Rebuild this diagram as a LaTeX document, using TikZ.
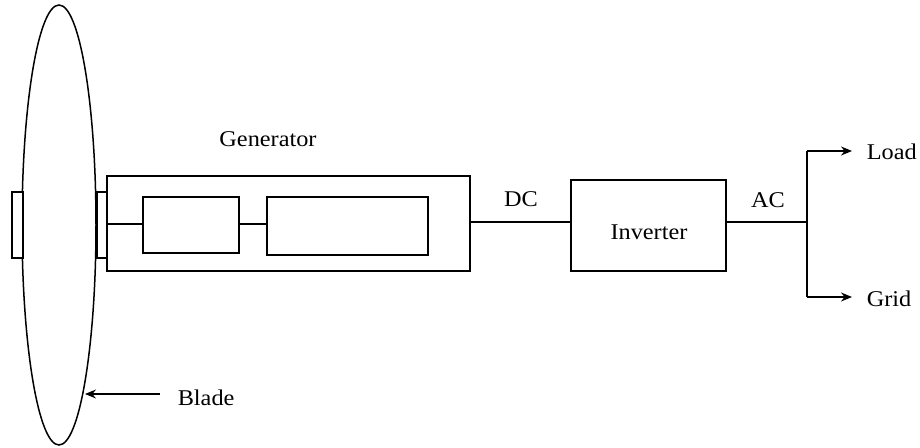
\documentclass[tikz,border=0pt]{standalone}
\usepackage{fontspec}
\setmainfont[FakeStretch=1.08]{Liberation Serif}
\usetikzlibrary{arrows.meta,shapes.geometric}
\begin{document}
\begin{tikzpicture}[x=1pt,y=-1pt,
  line width=1.5pt,
  lbl/.style={font=\fontsize{22.5}{26}\selectfont, inner sep=0pt},
  arr/.style={-{Stealth[length=11pt,width=9pt]}}]
\useasboundingbox (0,0) rectangle (920,447);
% blade
\node[draw, ellipse, minimum width=74pt, minimum height=440pt, inner sep=0pt] (blade) at (59,225) {};
% hubs
\node[draw, fill=white, minimum width=11pt, minimum height=66pt, inner sep=0pt] (hubL) at (17.5,225) {};
\node[draw, fill=white, minimum width=10pt, minimum height=66pt, inner sep=0pt] (hubR) at (102,225) {};
% generator
\node[draw, minimum width=363pt, minimum height=95pt, inner sep=0pt] (gen) at (288.5,223.5) {};
\node[draw, minimum width=96pt, minimum height=56pt, inner sep=0pt] (b1) at (191,225) {};
\node[draw, minimum width=161pt, minimum height=58pt, inner sep=0pt] (b2) at (347.5,226) {};
\coordinate (genIn) at (107,224);
\draw (genIn) -- (b1.west |- genIn);
\draw (b1.east |- genIn) -- (b2.west |- genIn);
\node[lbl] (genl) at (268,139) {Generator};
% inverter
\node[draw, minimum width=155pt, minimum height=91pt, inner sep=0pt] (inv) at (648.5,225.5) {};
\node[lbl] (invl) at (649,232) {Inverter};
\coordinate (dcL) at (470,222);
\draw (dcL) -- (inv.west |- dcL);
\node[lbl] (dc) at (521,199) {DC};
% AC
\coordinate (acR) at (807,222);
\draw (inv.east |- acR) -- (acR);
\node[lbl] (ac) at (768,200) {AC};
\coordinate (top) at (807,151);
\coordinate (bot) at (807,297);
\node[lbl, anchor=west] (load) at (866,152) {Load};
\node[lbl, anchor=west] (grid) at (866,299) {Grid};
\draw (top) -- (bot);
\draw[arr] (top) -- (852,151);
\draw[arr] (bot) -- (852,297);
% blade arrow
\node[lbl, anchor=west] (bladel) at (177,398) {Blade};
\coordinate (bt) at (160,394);
\draw[arr] (bt) -- (85,394);
\end{tikzpicture}
\end{document}
